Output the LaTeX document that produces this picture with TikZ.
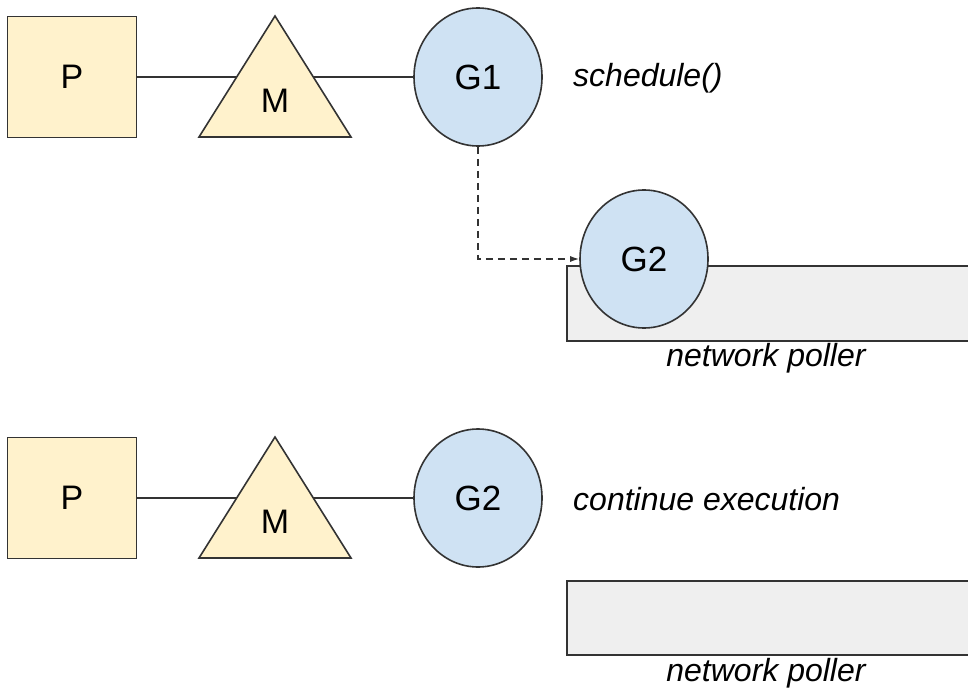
\documentclass[tikz,border=0pt]{standalone}
\usepackage{fontspec}
\setmainfont{Liberation Sans}
\usetikzlibrary{shapes.geometric,arrows.meta}
\definecolor{pfill}{HTML}{FFF2CC}
\definecolor{gfill}{HTML}{CFE2F3}
\definecolor{pollfill}{HTML}{EFEFEF}
\definecolor{ink}{HTML}{333333}
\begin{document}
\begin{tikzpicture}[x=1pt,y=-1pt,
  outline/.style={draw=ink,line width=1.6pt},
  pbox/.style={outline,fill=pfill,rectangle,minimum width=129pt,minimum height=121pt,inner sep=0pt,
    font=\fontsize{34}{40}\selectfont},
  mtri/.style={outline,fill=pfill,line join=miter},
  mlabel/.style={inner sep=0pt,font=\fontsize{34}{40}\selectfont},
  gcirc/.style={outline,fill=gfill,ellipse,minimum width=128pt,minimum height=138pt,inner sep=0pt,
    font=\fontsize{35}{40}\selectfont},
  link/.style={draw=ink,line width=1.6pt},
  pollbox/.style={outline,fill=pollfill},
  note/.style={inner sep=0pt,font=\fontsize{32}{38}\selectfont\itshape},
]
\useasboundingbox (0,0) rectangle (968,690);

% ---------- upper state: G1 runs schedule() ----------
\node[pbox] (P1) at (72,77) {P};
\node[gcirc] (G1) at (478,77) {G1};
\draw[link] (P1.east) -- (G1.west);
\coordinate (M1top) at (275,16);
\coordinate (M1left) at (199,137);
\coordinate (M1right) at (351,137);
\draw[mtri] (M1top) -- (M1right) -- (M1left) -- cycle;
\node[mlabel] (M1) at (275,101) {M};
\node[note,anchor=west] (sched) at (573,78) {schedule()};

% network poller holding G2
\coordinate (poll1nw) at (567,266);
\coordinate (poll1se) at (980,341);
\draw[pollbox] (poll1nw) rectangle (poll1se);
\node[gcirc] (G2a) at (644,259) {G2};
\node[note] (poll1) at (766,358) {network poller};
\draw[draw=ink,line width=1.3pt,dash pattern=on 7pt off 5pt,-{Latex[length=9pt,width=6pt]}]
  (G1.south) |- (G2a.west);

% ---------- lower state: G2 continues ----------
\node[pbox] (P2) at (72,498) {P};
\node[gcirc] (G2b) at (478,498) {G2};
\draw[link] (P2.east) -- (G2b.west);
\coordinate (M2top) at (275,437);
\coordinate (M2left) at (199,558);
\coordinate (M2right) at (351,558);
\draw[mtri] (M2top) -- (M2right) -- (M2left) -- cycle;
\node[mlabel] (M2) at (275,522) {M};
\node[note,anchor=west] (cont) at (573,499) {continue execution};

\coordinate (poll2nw) at (567,581);
\coordinate (poll2se) at (980,655);
\draw[pollbox] (poll2nw) rectangle (poll2se);
\node[note] (poll2) at (766,673) {network poller};
\end{tikzpicture}
\end{document}
